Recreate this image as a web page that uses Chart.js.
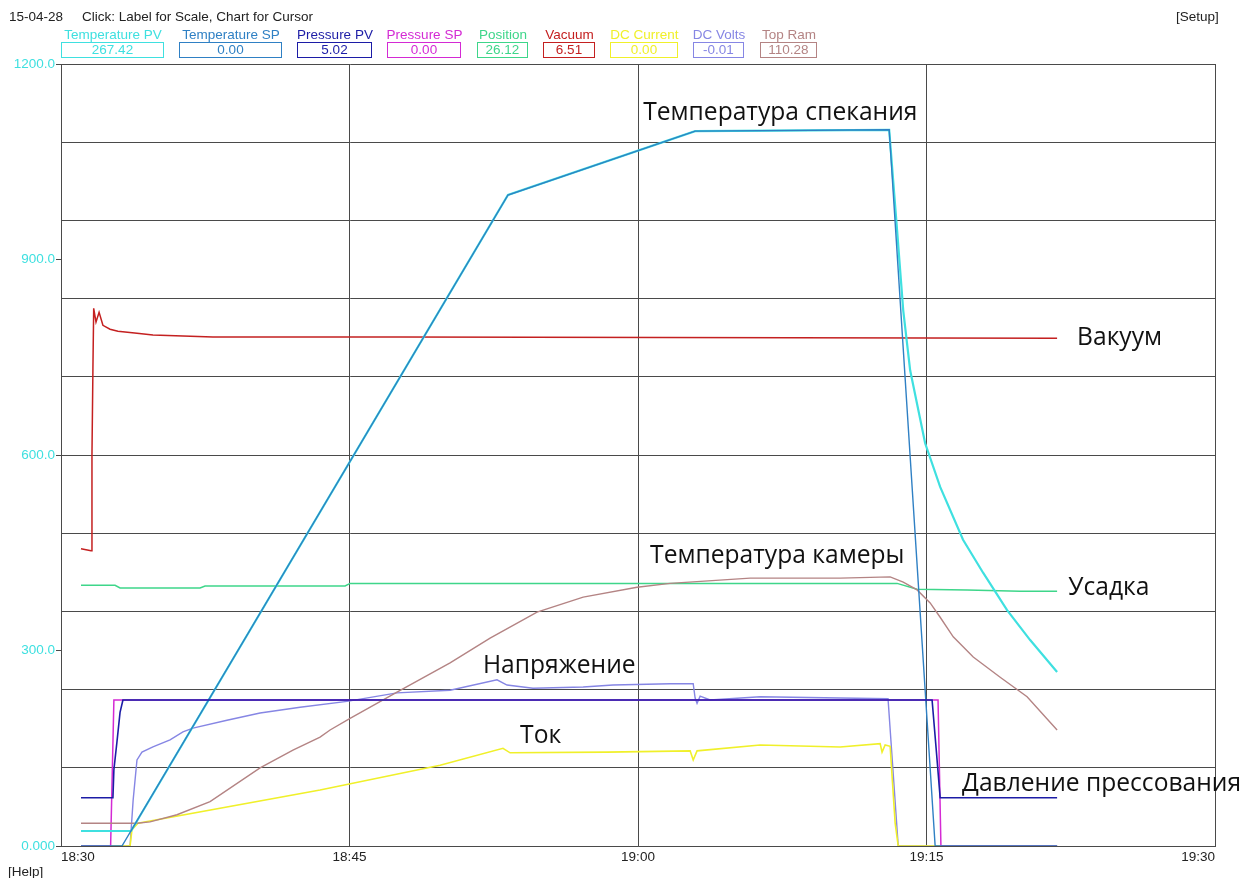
<!DOCTYPE html>
<html><head><meta charset="utf-8">
<script src="https://cdn.jsdelivr.net/npm/chart.js@4.4.1/dist/chart.umd.min.js"></script>
<style>
html,body{margin:0;padding:0;background:#fff;width:1244px;height:878px;overflow:hidden;font-family:"Liberation Sans",Arial,sans-serif;}
canvas{position:absolute;left:0;top:0;}
.t{position:absolute;font-size:13.5px;color:#222;white-space:nowrap;line-height:16px;}
.lg{position:absolute;top:27px;font-size:13.5px;text-align:center;white-space:nowrap;line-height:16px;}
.bx{position:absolute;top:42px;height:14px;border:1.6px solid;font-size:13.5px;text-align:center;line-height:14px;}
</style>
</head><body>
<canvas id="c" width="1244" height="878"></canvas>
<div id="hdr"></div>
<script>
// ---------- DATA (x = minutes after 18:30) ----------
const seriesNames = ['Temperature PV','Temperature SP','Pressure PV','Pressure SP','Position','Vacuum','DC Current','DC Volts','Top Ram'];
const seriesReadings = ['267.42','0.00','5.02','0.00','26.12','6.51','0.00','-0.01','110.28'];

const tempPvTime  = [1.04, 3.64, 23.24, 32.97, 43.06, 43.47, 43.79, 44.15, 44.93, 45.71, 46.9, 47.95, 49.19, 50.39, 51.79];
const tempPvValue = [23, 23, 999, 1097, 1099, 945, 822, 730, 618, 551, 470, 419, 362, 316, 267];

const tempSpTime  = [1.04, 3.17, 23.24, 32.97, 43.06, 45.45, 51.79];
const tempSpValue = [0, 0, 999, 1097, 1099, 0, 0];

const pressPvTime  = [1.04, 2.70, 2.75, 2.91, 3.07, 3.22, 45.29, 45.5, 45.71, 51.79];
const pressPvValue = [74, 74, 117, 160, 205, 224, 224, 150, 74, 74];

const pressSpTime  = [1.04, 2.58, 2.75, 45.6, 45.75, 51.79];
const pressSpValue = [0, 0, 224, 224, 0, 0];

const positionTime  = [1.04, 2.81, 3.07, 7.23, 7.49, 14.77, 15.03, 43.47, 44.51, 47.11, 49.87, 51.79];
const positionValue = [400, 400, 396, 396, 399, 399, 403, 403, 394, 393, 391, 391];

const vacuumTime  = [1.04, 1.56, 1.61, 1.66, 1.70, 1.82, 1.98, 2.18, 2.55, 2.96, 3.95, 4.78, 7.9, 17.6, 51.79];
const vacuumValue = [456, 453, 600, 733, 825, 804, 819, 799, 793, 790, 787, 784, 781, 781, 779];

const dcCurrentTime  = [1.04, 3.59, 3.69, 4.0, 13.47, 19.71, 22.98, 23.35, 28.39, 32.71, 32.87, 33.07, 36.35, 40.51, 42.59, 42.69, 42.85, 43.11, 43.21, 43.37, 43.53, 51.79];
const dcCurrentValue = [0, 0, 25, 35, 86, 124, 150, 143, 144, 146, 132, 146, 155, 152, 157, 144, 155, 153, 107, 35, 0, 0];

const dcVoltsTime  = [1.04, 3.59, 3.75, 3.95, 4.21, 4.78, 5.67, 6.34, 6.86, 8.63, 10.35, 12.43, 14.87, 17.47, 20.23, 22.67, 23.19, 24.54, 27.15, 28.7, 31.67, 32.87, 32.97, 33.07, 33.23, 33.75, 36.35, 43.0, 43.53, 51.79];
const dcVoltsValue = [0, 0, 70, 132, 144, 152, 163, 175, 181, 193, 204, 213, 222, 235, 239, 255, 247, 242, 244, 247, 249, 249, 227, 219, 230, 224, 229, 226, 0, 0];

const topRamTime  = [1.04, 3.95, 4.63, 6.03, 7.75, 10.35, 12.06, 13.47, 13.99, 15.03, 17.47, 20.23, 22.31, 24.75, 27.15, 29.95, 31.67, 35.83, 40.51, 43.11, 43.79, 44.51, 45.19, 45.71, 46.39, 47.43, 48.83, 50.23, 51.79];
const topRamValue = [35, 35, 37, 48, 68, 120, 147, 167, 178, 196, 236, 281, 319, 359, 382, 397, 403, 411, 411, 413, 405, 393, 373, 351, 321, 290, 259, 229, 178];

const xTickMinutes = [0, 15, 30, 45, 60];
const yTickValues = [0, 120, 240, 300, 360, 480, 600, 720, 840, 900, 960, 1080, 1200];

const annotationTexts = ['Температура спекания','Вакуум','Температура камеры','Усадка','Напряжение','Ток','Давление прессования'];
const annotationTime  = [30.27, 52.83, 30.63, 52.37, 21.94, 23.87, 46.85];
const annotationValue = [1125, 779.5, 445, 396, 276, 169, 95];

// ---------- STYLE ----------
const seriesColors = ['#3fe0e0','#2f80c4','#1c1ca6','#d42ad4','#3ed68a','#c42020','#f0f02a','#8686e4','#b48484'];
const seriesWidths = [2.2, 1.4, 1.6, 1.5, 1.5, 1.5, 1.6, 1.4, 1.4];
const legendLeft  = [61, 179, 297, 387, 477, 543, 610, 693, 760];
const legendWidth = [104, 104, 76, 75, 52, 53, 69, 52, 58];

// header
const hdr = document.getElementById('hdr');
function addText(txt, left, top){const d=document.createElement('div');d.className='t';d.textContent=txt;d.style.left=left+'px';d.style.top=top+'px';hdr.appendChild(d);}
addText('15-04-28', 9, 9);
addText('Click: Label for Scale, Chart for Cursor', 82, 9);
addText('[Setup]', 1176, 9);
addText('[Help]', 8, 864);
seriesNames.forEach((n,i)=>{
  const l=document.createElement('div');l.className='lg';l.textContent=n;l.style.color=seriesColors[i];
  l.style.left=(legendLeft[i]-10)+'px';l.style.width=(legendWidth[i]+20)+'px';hdr.appendChild(l);
  const b=document.createElement('div');b.className='bx';b.textContent=seriesReadings[i];b.style.color=seriesColors[i];b.style.borderColor=seriesColors[i];
  b.style.left=legendLeft[i]+'px';b.style.width=(legendWidth[i]-3)+'px';hdr.appendChild(b);
});

function pts(t,v){return t.map((x,i)=>({x:x,y:v[i]}));}
const seriesData = [
  pts(tempPvTime,tempPvValue), pts(tempSpTime,tempSpValue), pts(pressPvTime,pressPvValue), pts(pressSpTime,pressSpValue),
  pts(positionTime,positionValue), pts(vacuumTime,vacuumValue), pts(dcCurrentTime,dcCurrentValue), pts(dcVoltsTime,dcVoltsValue), pts(topRamTime,topRamValue)
];
const drawOrder = [2, 1, 0, 5, 4, 6, 7, 8, 3]; // lower = drawn on top
const datasets = seriesNames.map((n,i)=>({
  label:n, data:seriesData[i], borderColor:seriesColors[i], backgroundColor:seriesColors[i],
  borderWidth:seriesWidths[i], pointRadius:0, tension:0, fill:false, order:drawOrder[i]
}));

function fmtTime(m){const tot=18*60+30+m;const h=Math.floor(tot/60);const mm=tot%60;return h+':'+(mm<10?'0':'')+mm;}

const annot = {
  id:'annot',
  afterDraw(chart){
    const ctx=chart.ctx, xs=chart.scales.x, ys=chart.scales.y;
    ctx.save();
    ctx.font='24.6px "Open Sans"';
    ctx.fillStyle='#111';
    ctx.textBaseline='middle';
    ctx.textAlign='left';
    annotationTexts.forEach((t,i)=>ctx.fillText(t, xs.getPixelForValue(annotationTime[i]), ys.getPixelForValue(annotationValue[i])));
    ctx.restore();
  }
};

function build(){
new Chart(document.getElementById('c'), {
  type:'line',
  data:{datasets},
  plugins:[annot],
  options:{
    responsive:false, animation:false, devicePixelRatio:1,
    layout:{padding:{top:64,bottom:12,right:29,left:0}},
    plugins:{legend:{display:false},tooltip:{enabled:false}},
    scales:{
      x:{type:'linear',min:0,max:60,
        afterBuildTicks:(s)=>{s.ticks=xTickMinutes.map(v=>({value:v}));},
        afterFit:(s)=>{s.height=20;},
        ticks:{callback:(v)=>fmtTime(v),color:'#222',font:{family:'"Liberation Sans", Arial',size:13.5},padding:3,align:'inner',maxRotation:0},
        grid:{color:'#4a4a4a',lineWidth:1,tickLength:0,drawTicks:false},
        border:{color:'#4a4a4a',width:1}
      },
      y:{type:'linear',min:0,max:1200,
        afterBuildTicks:(s)=>{s.ticks=yTickValues.map(v=>({value:v}));},
        afterFit:(s)=>{s.width=61;},
        ticks:{callback:(v)=>(v%300===0?(v===0?'0.000':v.toFixed(1)):''),color:'#3fe0e0',font:{family:'"Liberation Sans", Arial',size:13.5},padding:1,autoSkip:false},
        grid:{color:(c)=>(c.tick&&c.tick.value%120===0?'#4a4a4a':'rgba(0,0,0,0)'),tickColor:(c)=>(c.tick&&c.tick.value%300===0?'#4a4a4a':'rgba(0,0,0,0)'),lineWidth:1,tickLength:5},
        border:{color:'#4a4a4a',width:1}
      }
    }
  }
});
}
if(document.fonts&&document.fonts.load){document.fonts.load('24px "Open Sans"').then(build,build);}else build();
</script>
</body></html>
